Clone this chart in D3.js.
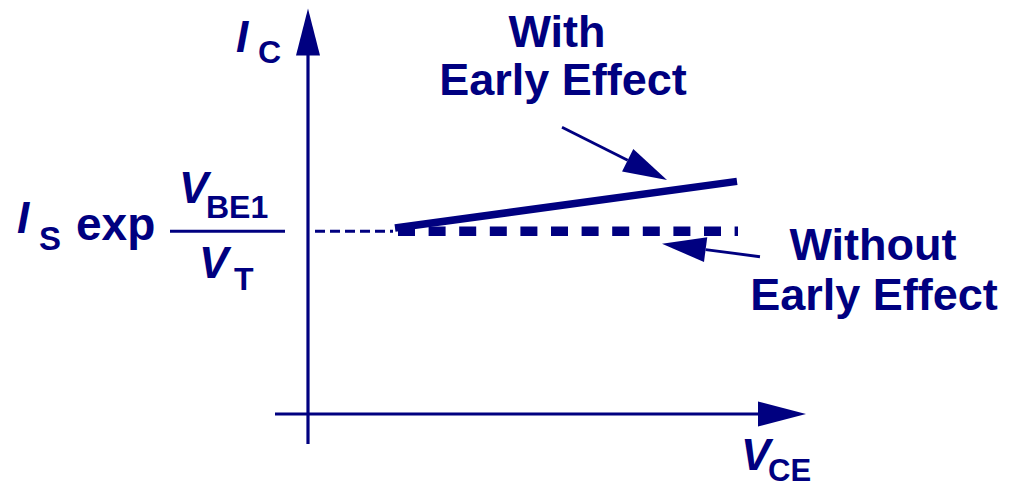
<!DOCTYPE html>
<html>
<head>
<meta charset="utf-8">
<script src="https://cdn.jsdelivr.net/npm/d3@7"></script>
<style>
  html, body { margin: 0; padding: 0; background: #ffffff; }
  svg { display: block; }
  text { font-family: "Liberation Sans", Arial, Helvetica, sans-serif; font-weight: bold; fill: #000080; }
</style>
</head>
<body>
<svg id="chart" width="1013" height="488"></svg>
<script>
// ---- data (V_CE and I_C in arbitrary units) ----
const xDomain = [0, 10];          // V_CE axis units
const yDomain = [0, 8];           // I_C axis units
const axisX = [-0.66, 9.96];      // horizontal axis extent (V_CE units)
const axisY = [-0.65, 8.77];      // vertical axis extent (I_C units)
const guideVce = [0.14, 1.7];     // thin dashed guide from the I_C axis
const idealVce = [1.8, 8.6];      // "Without Early Effect" (flat)
const idealIc = [3.95, 3.95];
const earlyVce = [1.74, 8.58];    // "With Early Effect" (sloped)
const earlyIc = [4.02, 5.03];
const arrowWith = [[5.08, 6.2], [7.18, 5.06]];     // tail -> tip
const arrowWithout = [[9.04, 3.4], [7.08, 3.68]];  // tail -> tip

const color = "#000080";
const svg = d3.select("#chart");

const x = d3.scaleLinear().domain(xDomain).range([308, 808]);
const y = d3.scaleLinear().domain(yDomain).range([414, 44]);

// arrowhead helper
function head(tip, from, len, half) {
  const dx = tip[0] - from[0], dy = tip[1] - from[1];
  const d = Math.hypot(dx, dy), ux = dx / d, uy = dy / d;
  const bx = tip[0] - ux * len, by = tip[1] - uy * len;
  return [[tip[0], tip[1]], [bx - uy * half, by + ux * half], [bx + uy * half, by - ux * half]];
}
const tri = d3.line();

// ---- axes ----
svg.append("line")
  .attr("x1", x(0)).attr("x2", x(0))
  .attr("y1", y(axisY[0])).attr("y2", y(axisY[1]) + 40)
  .attr("stroke", color).attr("stroke-width", 3.2);
svg.append("path")
  .attr("d", tri(head([x(0), y(axisY[1])], [x(0), y(0)], 47, 12)) + "Z")
  .attr("fill", color);

svg.append("line")
  .attr("x1", x(axisX[0])).attr("x2", x(axisX[1]) - 40)
  .attr("y1", y(0)).attr("y2", y(0))
  .attr("stroke", color).attr("stroke-width", 3.2);
svg.append("path")
  .attr("d", tri(head([x(axisX[1]), y(0)], [x(0), y(0)], 48, 12.5)) + "Z")
  .attr("fill", color);

// ---- thin dashed guide ----
svg.append("line")
  .attr("x1", x(guideVce[0])).attr("x2", x(guideVce[1]))
  .attr("y1", y(idealIc[0])).attr("y2", y(idealIc[0]))
  .attr("stroke", color).attr("stroke-width", 3)
  .attr("stroke-dasharray", "10,5");

// ---- without Early effect (thick dashed) ----
svg.append("line")
  .attr("x1", x(idealVce[0])).attr("x2", x(idealVce[1]))
  .attr("y1", y(idealIc[0])).attr("y2", y(idealIc[1]))
  .attr("stroke", color).attr("stroke-width", 9.5)
  .attr("stroke-dasharray", "17,13.6");

// ---- with Early effect (thick solid) ----
svg.append("line")
  .attr("x1", x(earlyVce[0])).attr("x2", x(earlyVce[1]))
  .attr("y1", y(earlyIc[0])).attr("y2", y(earlyIc[1]))
  .attr("stroke", color).attr("stroke-width", 7.5);

// ---- annotation arrows ----
[arrowWith, arrowWithout].forEach(a => {
  const t = [x(a[0][0]), y(a[0][1])], p = [x(a[1][0]), y(a[1][1])];
  const h = head(p, t, 44, 12.5);
  const bx = (h[1][0] + h[2][0]) / 2, by = (h[1][1] + h[2][1]) / 2;
  svg.append("line").attr("x1", t[0]).attr("y1", t[1]).attr("x2", bx).attr("y2", by)
    .attr("stroke", color).attr("stroke-width", 2.8);
  svg.append("path").attr("d", tri(h) + "Z").attr("fill", color);
});

// ---- labels ----
function label(txt, px, py, size, opts = {}) {
  const t = svg.append("text").attr("x", px).attr("y", py)
    .style("font-size", size + "px").text(txt);
  if (opts.italic) t.style("font-style", "italic");
  if (opts.anchor) t.attr("text-anchor", opts.anchor);
  return t;
}
// I_C
label("I", 236, 52, 44, {italic: true});
label("C", 258, 63, 32);
// I_S exp (V_BE1 / V_T)
label("I", 17, 233, 44, {italic: true});
label("S", 39, 250, 33);
label("exp", 76, 240, 46);
label("V", 179, 203, 44, {italic: true});
label("BE1", 206, 218, 32);
svg.append("line").attr("x1", 170).attr("x2", 285).attr("y1", y(idealIc[0])).attr("y2", y(idealIc[0]))
  .attr("stroke", color).attr("stroke-width", 3);
label("V", 199, 278, 44, {italic: true});
label("T", 234, 290, 32);
// V_CE
label("V", 741, 470, 44, {italic: true});
label("CE", 768, 481, 31);
// annotations
label("With", 557, 47, 45, {anchor: "middle"});
label("Early Effect", 563, 95, 45, {anchor: "middle"});
label("Without", 873, 260, 45, {anchor: "middle"});
label("Early Effect", 874, 310, 45, {anchor: "middle"});
</script>
</body>
</html>
